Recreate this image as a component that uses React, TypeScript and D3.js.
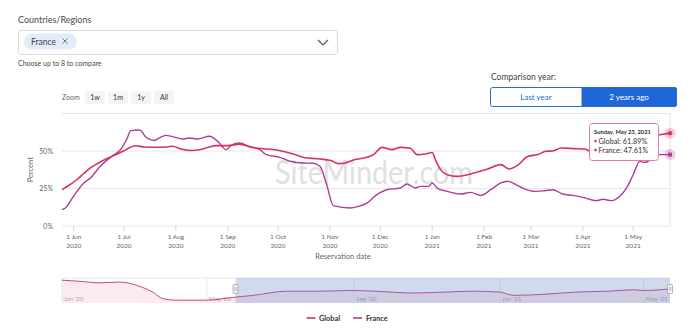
import React from "react";
import * as d3 from "d3";

const globalDates = ["2020-05-25","2020-05-29","2020-06-03","2020-06-07","2020-06-11","2020-06-15","2020-06-19","2020-06-25","2020-07-01","2020-07-05","2020-07-08","2020-07-13","2020-07-20","2020-07-27","2020-07-30","2020-08-04","2020-08-10","2020-08-15","2020-08-20","2020-08-25","2020-09-01","2020-09-08","2020-09-15","2020-09-22","2020-09-28","2020-10-03","2020-10-10","2020-10-17","2020-10-25","2020-11-02","2020-11-06","2020-11-10","2020-11-15","2020-11-23","2020-11-27","2020-12-02","2020-12-08","2020-12-13","2020-12-19","2020-12-23","2020-12-28","2021-01-01","2021-01-03","2021-01-06","2021-01-10","2021-01-16","2021-01-26","2021-02-03","2021-02-11","2021-02-16","2021-02-21","2021-02-27","2021-03-05","2021-03-10","2021-03-14","2021-03-19","2021-03-27","2021-04-02","2021-04-06","2021-04-14","2021-04-24","2021-05-04","2021-05-12","2021-05-18","2021-05-23"];
const globalValues = [24.2,27,31,35,38.7,41.5,44,47,50.2,52.5,53.5,52.7,52.5,52.7,53.2,51.3,50.3,50.8,52.3,53.6,53.6,54.6,52.5,51.5,51,50,48,45.5,44.8,43.5,41.6,42,44,45.8,47.6,52.4,50.9,52.4,51.8,47.6,48,49,44,37.6,34.2,33.1,35.3,38,40.9,38,40.4,46.4,47.6,49.8,50,52,51.6,51.3,49.8,51,53,57,60,61,61.89];

const franceDates = ["2020-05-25","2020-05-27","2020-06-01","2020-06-07","2020-06-11","2020-06-17","2020-06-24","2020-06-29","2020-07-03","2020-07-05","2020-07-10","2020-07-11","2020-07-14","2020-07-19","2020-07-22","2020-07-26","2020-07-30","2020-08-05","2020-08-09","2020-08-14","2020-08-21","2020-08-26","2020-08-31","2020-09-03","2020-09-08","2020-09-14","2020-09-20","2020-09-24","2020-10-02","2020-10-09","2020-10-16","2020-10-22","2020-10-26","2020-10-30","2020-11-03","2020-11-13","2020-11-18","2020-11-23","2020-11-29","2020-12-05","2020-12-13","2020-12-17","2020-12-22","2020-12-25","2020-12-30","2021-01-01","2021-01-04","2021-01-10","2021-01-18","2021-01-24","2021-01-30","2021-02-05","2021-02-11","2021-02-15","2021-02-20","2021-02-24","2021-03-04","2021-03-09","2021-03-14","2021-03-20","2021-03-26","2021-04-01","2021-04-09","2021-04-13","2021-04-18","2021-04-23","2021-04-27","2021-05-01","2021-05-05","2021-05-08","2021-05-13","2021-05-17","2021-05-23"];
const franceValues = [10.9,12,20,28.7,32,40,46.7,51,58.7,63.6,64,63.6,59.3,57,58.7,60.4,59.6,58,58.7,58,59.8,56.4,50.9,53.8,55.3,53,50.9,47.6,45.8,43,42,41.8,39.8,27.6,13.6,12,13.1,15.3,20.9,24.2,25.3,28,25.3,26.4,26.4,28.7,25.3,23.1,21.3,22.4,20.4,24.2,28.7,29.8,27.6,25.3,23.1,23.5,24.2,21.3,20.4,19.1,16.9,17.8,16.9,19.8,25.3,34.2,43.1,42.4,45.3,47.6,47.61];

const navDates = ["2020-01-01","2020-01-18","2020-02-01","2020-02-18","2020-03-08","2020-03-17","2020-03-25","2020-04-06","2020-05-01","2020-05-23","2020-06-09","2020-07-07","2020-08-04","2020-08-29","2020-09-22","2020-10-20","2020-11-16","2020-12-09","2021-01-01","2021-01-12","2021-02-05","2021-03-05","2021-04-01","2021-04-23","2021-05-01","2021-05-23"];
const navValues = [95,89,83,87,64,43,15,8,8,20,29,47,47,50,46,39,43,47,43,29,33,43,47,53,50,57];

const yTicks = [0, 25, 50, 75];
const yTickLabels = ["0%", "25%", "50%", ""];
const zoomButtons = ["1w", "1m", "1y", "All"];
const navLabelDates = ["2020-01-01", "2020-05-01", "2020-09-01", "2021-01-01", "2021-05-01"];
const navLabels = ["Jan '20", "May '20", "Sep '20", "Jan '21", "May '21"];
const seriesNames = ["Global", "France"];
const tooltipDate = "Sunday, May 23, 2021";

const parse = (s: string) => { const [y, m, d] = s.split("-").map(Number); return new Date(Date.UTC(y, m - 1, d)); };
const monthNames = ["Jan","Feb","Mar","Apr","May","Jun","Jul","Aug","Sep","Oct","Nov","Dec"];

const GLOBAL = "#d4345f";
const FRANCE = "#b23b98";
const FONT = "Lato, 'Open Sans', sans-serif";

export default function App() {
  const x = d3.scaleUtc().domain([parse("2020-05-25"), parse("2021-05-23")]).range([62, 670]);
  const y = d3.scaleLinear().domain([0, 75]).range([226, 113.5]);
  const nx = d3.scaleUtc().domain([parse("2020-01-01"), parse("2021-05-23")]).range([62, 670]);
  const ny = d3.scaleLinear().domain([0, 100]).range([302, 279]);

  const gData = globalDates.map((d, i) => ({ d: parse(d), v: globalValues[i] }));
  const fData = franceDates.map((d, i) => ({ d: parse(d), v: franceValues[i] }));
  const nData = navDates.map((d, i) => ({ d: parse(d), v: navValues[i] }));

  const line = d3.line<{ d: Date; v: number }>().x(p => x(p.d)).y(p => y(p.v)).curve(d3.curveMonotoneX);
  const nLine = d3.line<{ d: Date; v: number }>().x(p => nx(p.d)).y(p => ny(p.v)).curve(d3.curveMonotoneX);
  const nArea = d3.area<{ d: Date; v: number }>().x(p => nx(p.d)).y0(303).y1(p => ny(p.v)).curve(d3.curveMonotoneX);

  const months = d3.utcMonth.range(parse("2020-06-01"), parse("2021-05-02"));
  const lastG = gData[gData.length - 1];
  const lastF = fData[fData.length - 1];
  const selStart = x.domain()[0];

  return (
    <svg width={694} height={336} style={{ position: "absolute", left: 0, top: 0, fontFamily: FONT }}>
      <rect width={694} height={336} fill="#fff" />
      {/* Top controls */}
      <text x={18} y={23} fontSize={9} fill="#4a4a4a">Countries/Regions</text>
      <rect x={18.5} y={30.5} width={319} height={24} rx={3} fill="#fff" stroke="#d9d9d9" />
      <rect x={24} y={33.5} width={53} height={16} rx={8} fill="#e3ecfa" />
      <text x={31} y={45} fontSize={8.5} fill="#444">France</text>
      <path d="M62.5,38.5 L67.5,43.5 M67.5,38.5 L62.5,43.5" stroke="#666" strokeWidth={0.9} />
      <path d="M318,40 L323,45 L328,40" stroke="#555" strokeWidth={1.2} fill="none" />
      <text x={18} y={66} fontSize={7} fill="#444">Choose up to 8 to compare</text>

      <text x={491} y={80} fontSize={8.5} fill="#444">Comparison year:</text>
      <rect x={490.5} y={87.5} width={186} height={19} rx={2} fill="#fff" stroke="#2a6bd8" />
      <path d="M582,87.5 H674.5 Q676.5,87.5 676.5,89.5 V104.5 Q676.5,106.5 674.5,106.5 H582 Z" fill="#1f67d6" stroke="#2a6bd8" />
      <text x={536} y={100} fontSize={8} fill="#2a6bd8" textAnchor="middle">Last year</text>
      <text x={629} y={100} fontSize={8} fill="#fff" textAnchor="middle">2 years ago</text>

      {/* Zoom buttons */}
      <text x={62} y={100} fontSize={7} fill="#666">Zoom</text>
      {zoomButtons.map((b, i) => {
        const bx = 85 + i * 23;
        const w = 20;
        return (
          <g key={b}>
            <rect x={bx} y={91} width={w} height={13} rx={2} fill="#f4f4f4" />
            <text x={bx + w / 2} y={100} fontSize={7} fill="#333" textAnchor="middle">{b}</text>
          </g>
        );
      })}

      {/* Watermark */}
      <text x={275} y={184} fontSize={33} fill="#e0e0e0" textLength={198} lengthAdjust="spacingAndGlyphs">SiteMinder.com</text>

      {/* Grid */}
      {yTicks.map((t, i) => (
        <g key={t}>
          <line x1={62} x2={670} y1={y(t)} y2={y(t)} stroke="#e6e6e6" strokeWidth={1} />
          {yTickLabels[i] && <text x={53} y={y(t) + 2.5} fontSize={7} fill="#666" textAnchor="end">{yTickLabels[i]}</text>}
        </g>
      ))}
      <text transform={`translate(33,${y(37.5)}) rotate(-90)`} fontSize={7.5} fill="#666" textAnchor="middle">Percent</text>

      {/* X axis */}
      {months.map(m => (
        <g key={m.toISOString()} transform={`translate(${x(m)},0)`}>
          <line y1={226} y2={231} stroke="#ccd6eb" />
          <text y={239} fontSize={6.5} fill="#666" textAnchor="middle">{`1 ${monthNames[m.getUTCMonth()]}`}</text>
          <text y={247.5} fontSize={6.5} fill="#666" textAnchor="middle">{m.getUTCFullYear()}</text>
        </g>
      ))}
      <text x={343} y={259} fontSize={7.5} fill="#666" textAnchor="middle">Reservation date</text>

      {/* crosshair */}
      <line x1={670} x2={670} y1={113} y2={226} stroke="#e0e0e0" />

      {/* Series */}
      <path d={line(fData) || ""} fill="none" stroke={FRANCE} strokeWidth={1.4} />
      <path d={line(gData) || ""} fill="none" stroke={GLOBAL} strokeWidth={1.6} />

      {/* Markers */}
      <circle cx={x(lastG.d)} cy={y(lastG.v)} r={5.5} fill={GLOBAL} opacity={0.25} />
      <circle cx={x(lastG.d)} cy={y(lastG.v)} r={2.2} fill={GLOBAL} />
      <circle cx={x(lastF.d)} cy={y(lastF.v)} r={5.5} fill={FRANCE} opacity={0.25} />
      <rect x={x(lastF.d) - 2} y={y(lastF.v) - 2} width={4} height={4} fill={FRANCE} />

      {/* Tooltip */}
      <rect x={589.5} y={123.5} width={69} height={37} rx={3} fill="#fff" fillOpacity={0.95} stroke="#e77aa0" />
      <text x={594} y={134} fontSize={5.8} fontWeight={700} fill="#333">{tooltipDate}</text>
      <circle cx={595.5} cy={141} r={1.3} fill={GLOBAL} />
      <text x={598.5} y={143.5} fontSize={7.3} fill="#333">{`${seriesNames[0]}: ${lastG.v.toFixed(2)}%`}</text>
      <circle cx={595.5} cy={150} r={1.3} fill={FRANCE} />
      <text x={598.5} y={152.5} fontSize={7.3} fill="#333">{`${seriesNames[1]}: ${lastF.v.toFixed(2)}%`}</text>

      {/* Navigator */}
      <line x1={62} x2={670} y1={278} y2={278} stroke="#e8e8e8" />
      <path d={nArea(nData) || ""} fill="#fbeaef" />
      {navLabelDates.map((d, i) => (
        <g key={d}>
          <line x1={nx(parse(d))} x2={nx(parse(d))} y1={278} y2={303} stroke="#e8e8e8" />
          <text x={nx(parse(d)) + 2} y={300.5} fontSize={6.3} fill="#aaa">{navLabels[i]}</text>
        </g>
      ))}
      <path d={nLine(nData) || ""} fill="none" stroke="#c04a83" strokeWidth={1} />
      <rect x={nx(selStart)} y={278} width={670 - nx(selStart)} height={25} fill="rgba(102,133,194,0.3)" />
      {[nx(selStart), 670].map((hx, i) => (
        <g key={i}>
          <rect x={hx - 2.5} y={284.5} width={5} height={9} rx={1} fill="#f2f2f2" stroke="#999" strokeWidth={0.7} />
          <line x1={hx - 0.7} x2={hx - 0.7} y1={287} y2={291} stroke="#999" strokeWidth={0.5} />
          <line x1={hx + 0.7} x2={hx + 0.7} y1={287} y2={291} stroke="#999" strokeWidth={0.5} />
        </g>
      ))}

      {/* Legend */}
      <line x1={306.5} x2={315.5} y1={318} y2={318} stroke={GLOBAL} strokeWidth={1.6} />
      <text x={319} y={320.5} fontSize={7.3} fontWeight={700} fill="#333">{seriesNames[0]}</text>
      <line x1={353} x2={362} y1={318} y2={318} stroke={FRANCE} strokeWidth={1.6} />
      <text x={366} y={320.5} fontSize={7.3} fontWeight={700} fill="#333">{seriesNames[1]}</text>
    </svg>
  );
}
